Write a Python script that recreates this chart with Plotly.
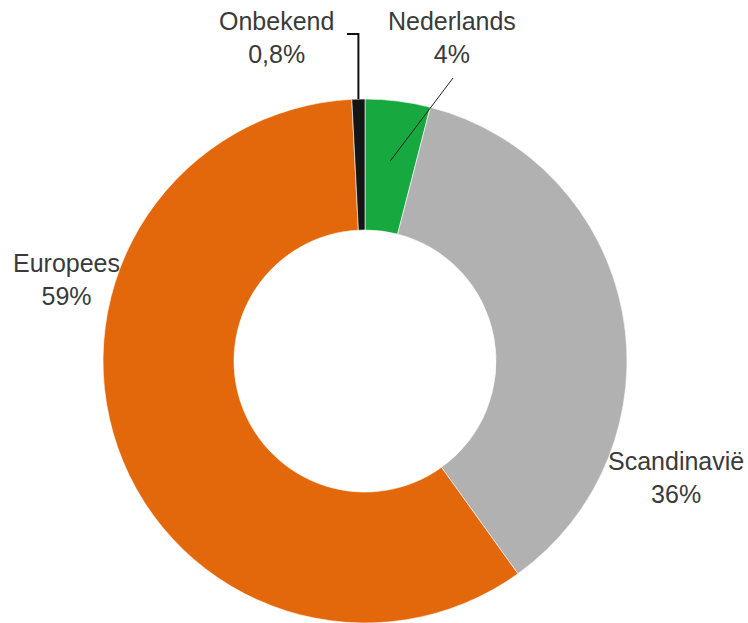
import math
import plotly.graph_objects as go

# Herkomst van de producten (aandeel in %)
labels = ["Nederlands", "Scandinavië", "Europees", "Onbekend"]
values = [4, 36, 59, 0.8]
value_text = ["4%", "36%", "59%", "0,8%"]
colors = ["#17a83f", "#b1b1b1", "#e3680c", "#151515"]

W, H = 748, 623
FONT = "Liberation Sans, Arial, sans-serif"
TEXT_COLOR = "#3a3a3a"

# Pie geometry in pixels
cx, cy, R = 365, 361, 262
dom_x = [(cx - R) / W, (cx + R) / W]
dom_y = [max(0.0, 1 - (cy + R) / H), min(1.0, 1 - (cy - R) / H)]

fig = go.Figure(go.Pie(
    labels=labels,
    values=values,
    hole=0.5,
    sort=False,
    direction="clockwise",
    rotation=0,
    marker=dict(colors=colors, line=dict(color="white", width=0.6)),
    textinfo="none",
    hoverinfo="label+percent",
    domain=dict(x=dom_x, y=dom_y),
    showlegend=False,
))


def px(x, y):
    return x / W, 1 - y / H


def slice_point(idx, rfrac):
    """Pixel point at the middle angle of slice idx, at rfrac * R from the centre."""
    total = sum(values)
    start = sum(values[:idx]) / total * 360
    mid = math.radians(start + values[idx] / total * 180)
    return cx + rfrac * R * math.sin(mid), cy - rfrac * R * math.cos(mid)


# Labels
label_pos = {
    "Onbekend": (276, 38),
    "Nederlands": (452, 38),
    "Europees": (66, 279),
    "Scandinavië": (676, 477),
}
for name, txt in zip(labels, value_text):
    x, y = label_pos[name]
    xp, yp = px(x, y)
    fig.add_annotation(
        x=xp, y=yp, xref="paper", yref="paper",
        text=f"{name}<br>{txt}", showarrow=False,
        font=dict(family=FONT, size=25, color=TEXT_COLOR),
        align="center", xanchor="center", yanchor="middle",
    )

# Leader line Onbekend: elbow from the label down to the slice edge
ox, oy = slice_point(3, 1.0)
x0, y0 = px(347, 34)
x1, y1 = px(ox, 34)
x2, y2 = px(ox, oy)
fig.add_shape(type="path", xref="paper", yref="paper",
              path=f"M {x0} {y0} L {x1} {y1} L {x2} {y2}",
              line=dict(color="#111111", width=2))

# Leader line Nederlands: from the label into the slice
nx, ny = slice_point(0, 0.77)
a0, b0 = px(453, 78)
a1, b1 = px(nx, ny)
fig.add_shape(type="line", xref="paper", yref="paper",
              x0=a0, y0=b0, x1=a1, y1=b1,
              line=dict(color="#222222", width=1))

fig.update_layout(
    width=W, height=H,
    margin=dict(l=0, r=0, t=0, b=0),
    paper_bgcolor="white",
    plot_bgcolor="white",
)

fig.write_html("out.html")
